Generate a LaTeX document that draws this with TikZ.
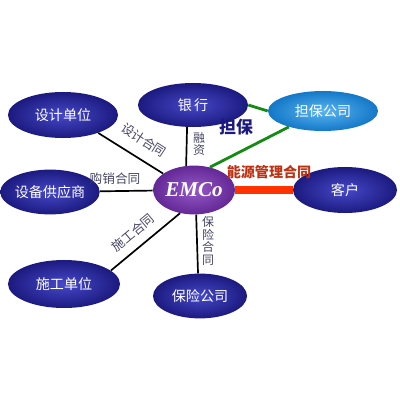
\documentclass[tikz,border=0pt]{standalone}
\usepackage{fontspec}
\setmainfont{Liberation Serif}
\newfontfamily\cjk{Noto Sans CJK SC}
\usepackage{tikz}
\usetikzlibrary{shapes.geometric}

\definecolor{navyin}{RGB}{70,72,200}
\definecolor{navyout}{RGB}{28,26,128}
\definecolor{emcoin}{RGB}{150,90,200}
\definecolor{emcoout}{RGB}{100,40,150}
\definecolor{guarin}{RGB}{90,180,240}
\definecolor{guarout}{RGB}{20,120,200}
\definecolor{labgray}{RGB}{70,70,100}
\definecolor{guargreen}{RGB}{20,140,20}
\definecolor{deepred}{RGB}{255,50,0}
\definecolor{energytxt}{RGB}{190,50,20}

\tikzset{
  party/.style={ellipse, inner color=navyin, outer color=navyout,
    text=white, font=\cjk\fontsize{10}{12}\selectfont, inner sep=0pt},
  hub/.style={ellipse, inner color=emcoin, outer color=emcoout,
    text=white, font=\bfseries\itshape\fontsize{15}{17}\selectfont, inner sep=0pt},
  guarbox/.style={ellipse, inner color=guarin, outer color=guarout,
    text=white, font=\cjk\fontsize{10}{12}\selectfont, inner sep=0pt},
  deal/.style={text=labgray, font=\cjk\fontsize{9}{11}\selectfont, inner sep=1pt},
  upright/.style={deal, align=center, font=\cjk\fontsize{8.5}{9.2}\selectfont},
  link/.style={black, line width=1.2pt},
  guarline/.style={guargreen, line width=2pt},
  energyline/.style={deepred, line width=5pt}
}

\begin{document}
\begin{tikzpicture}[x=0.025cm, y=-0.025cm]
  \useasboundingbox (0,0) rectangle (400,400);

  \coordinate (D) at (63,115);
  \coordinate (B) at (193,105);
  \coordinate (G) at (323,111);
  \coordinate (S) at (50,192);
  \coordinate (E) at (194,190);
  \coordinate (K) at (345,190);
  \coordinate (C) at (64,284);
  \coordinate (I) at (200,296);

  \node[party, minimum width=2.75cm, minimum height=1.15cm] (design) at (D) {设计单位};
  \node[party, minimum width=2.75cm, minimum height=1.1cm] (bank) at (B) {银\,行};
  \node[guarbox, minimum width=2.75cm, minimum height=1cm] (guar) at (G) {担保公司};
  \node[party, minimum width=2.15cm, minimum height=1.12cm] (supplier) at (S) {设备供应商};
  \node[hub, minimum width=2.05cm, minimum height=1.22cm] (emco) at (E) {EMCo};
  \node[party, minimum width=2.6cm, minimum height=1.15cm] (client) at (K) {客户};
  \node[party, minimum width=2.8cm, minimum height=1.2cm] (builder) at (C) {施工单位};
  \node[party, minimum width=2.35cm, minimum height=1.12cm] (insurer) at (I) {保险公司};

  \draw[link] (design.-27) -- (emco.152);
  \draw[link] (bank.255) -- (emco.108);
  \draw[link] (supplier) -- (emco);
  \draw[link] (builder.16) -- (emco.239);
  \draw[link] (emco.275) -- (insurer.95);
  \draw[guarline] (bank.east) -- (guar.west);
  \draw[guarline] (emco.55) -- (guar.205);
  \draw[energyline] (emco.east) -- (client.west);

  \node[deal, rotate=-33] (designdeal) at (144,140) {设计合同};
  \node[upright] (loan) at (199,144) {融\\资};
  \node[deal] (buydeal) at (115,179) {购销合同};
  \node[deal, rotate=40] (builddeal) at (133,233) {施工合同};
  \node[upright] (insdeal) at (208,241) {保\\险\\合\\同};
  \node[text=navyout, font=\cjk\bfseries\fontsize{12}{14}\selectfont] (guarlab) at (236,127) {担保};
  \node[text=energytxt, font=\cjk\bfseries\fontsize{10}{12}\selectfont] (energylab) at (269,172) {能源管理合同};
\end{tikzpicture}
\end{document}
